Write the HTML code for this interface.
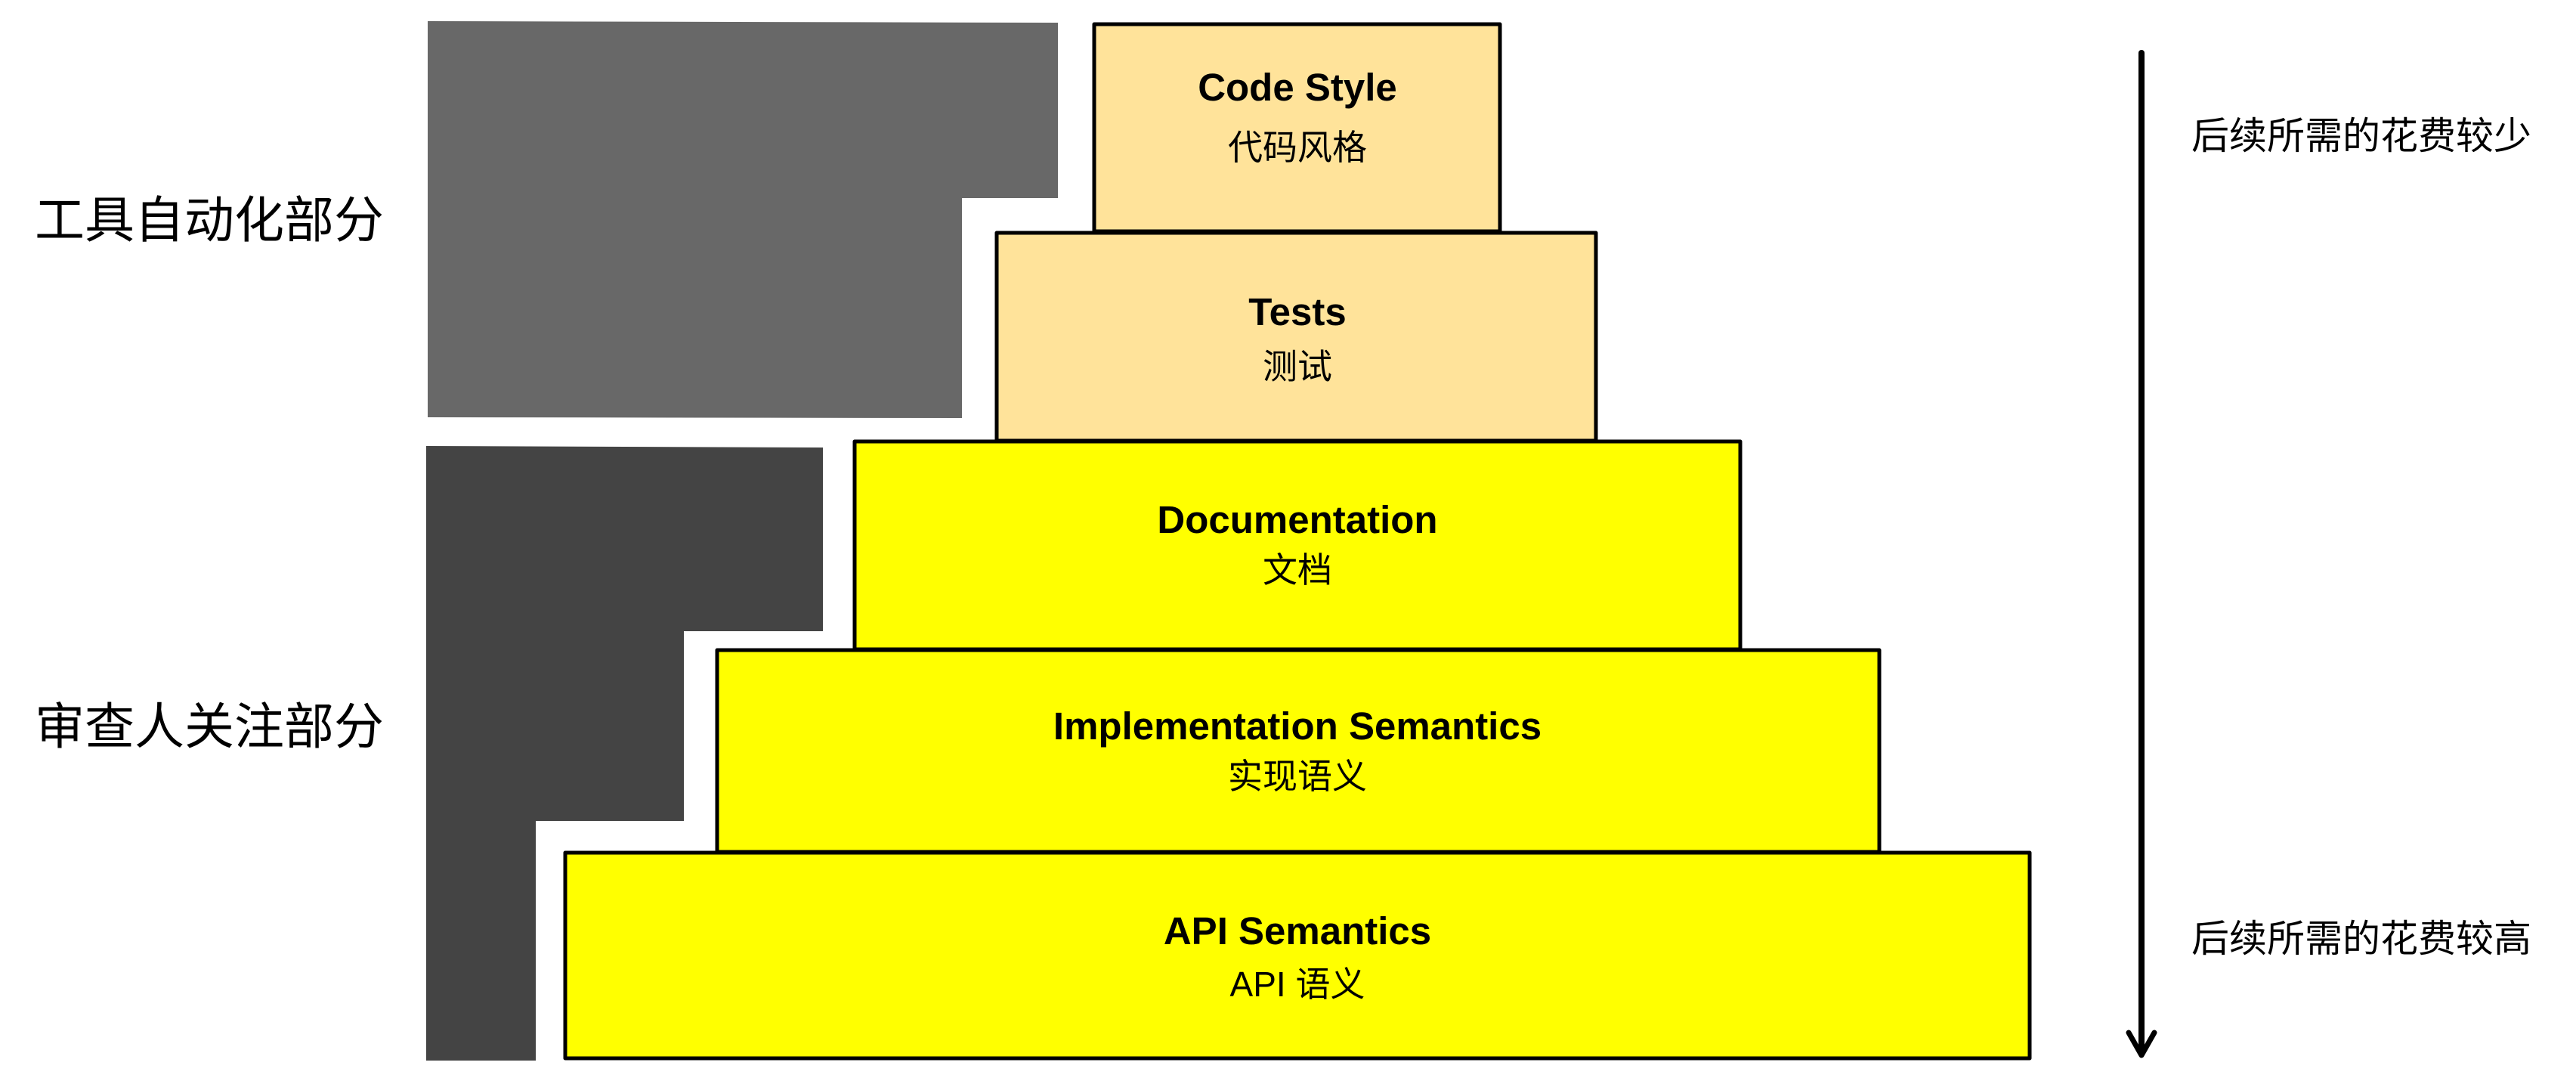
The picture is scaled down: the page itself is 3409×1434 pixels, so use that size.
<!DOCTYPE html>
<html><head><meta charset="utf-8"><style>
html,body{margin:0;padding:0;background:#fff;}
svg{display:block}
text{font-family:"Liberation Sans","Noto Sans CJK SC",sans-serif;fill:#000}
</style></head><body>
<svg width="3409" height="1434" viewBox="0 0 3409 1434" xmlns="http://www.w3.org/2000/svg">
<polygon points="566,28 1400,30 1400,262 1273,262 1273,553 566,552" fill="#686868"/>
<polygon points="564,590 1089,592 1089,835 905,835 905,1086 709,1086 709,1403 564,1403" fill="#444444"/>
<g stroke="#000" stroke-width="5" stroke-linejoin="round">
<rect x="1448" y="32" width="537" height="274" fill="#ffe39a"/>
<rect x="1319" y="308" width="793" height="275" fill="#ffe39a"/>
<rect x="1131" y="584" width="1172" height="275" fill="#ffff00"/>
<rect x="949" y="860" width="1538" height="267" fill="#ffff00"/>
<rect x="748" y="1128" width="1938" height="272" fill="#ffff00"/>
</g>
<g text-anchor="middle" font-size="51" font-weight="600">
<text x="1717" y="133">Code Style</text>
<text x="1717" y="430">Tests</text>
<text x="1717" y="705">Documentation</text>
<text x="1717" y="978">Implementation Semantics</text>
<text x="1717" y="1249">API Semantics</text>
</g>
<g text-anchor="middle" font-size="46">
<text x="1717" y="211">代码风格</text>
<text x="1717" y="501">测试</text>
<text x="1717" y="770">文档</text>
<text x="1717" y="1043">实现语义</text>
<text x="1717" y="1318">API 语义</text>
</g>
<g font-size="66">
<text x="46" y="314">工具自动化部分</text>
<text x="46" y="984">审查人关注部分</text>
</g>
<g font-size="50">
<text x="2900" y="197">后续所需的花费较少</text>
<text x="2900" y="1259">后续所需的花费较高</text>
</g>
<line x1="2834" y1="70" x2="2834" y2="1392" stroke="#000" stroke-width="8" stroke-linecap="round"/>
<polyline points="2817,1366 2834,1396 2851,1366" fill="none" stroke="#000" stroke-width="7" stroke-linecap="round" stroke-linejoin="round"/>
</svg>
</body></html>
